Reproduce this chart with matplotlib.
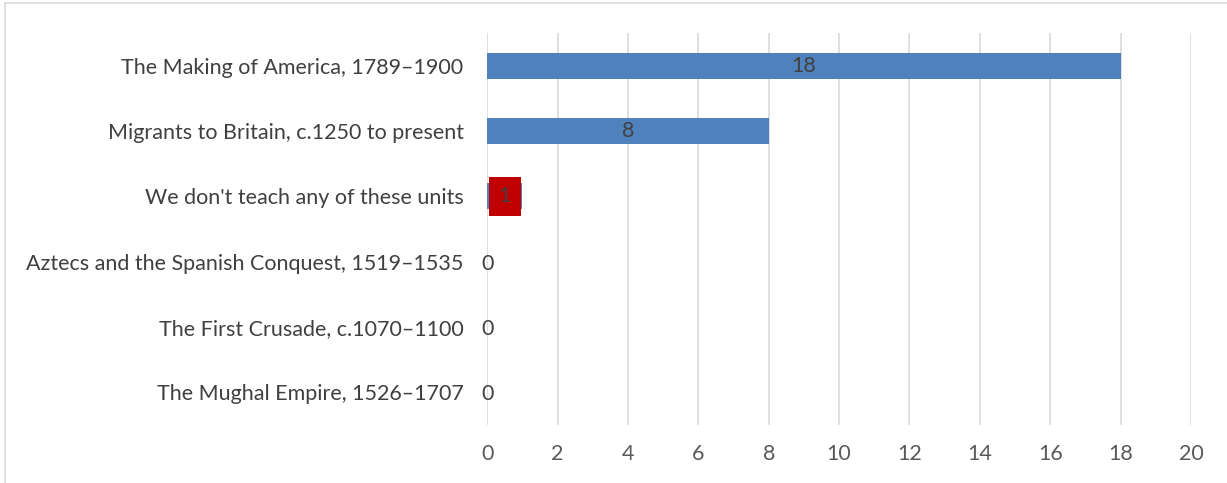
import matplotlib.pyplot as plt
from matplotlib.lines import Line2D

categories = [
    "The Mughal Empire, 1526\u20131707",
    "The First Crusade, c.1070\u20131100",
    "Aztecs and the Spanish Conquest, 1519\u20131535",
    "We don't teach any of these units",
    "Migrants to Britain, c.1250 to present",
    "The Making of America, 1789\u20131900",
]
values = [0, 0, 0, 1, 8, 18]
xticks = list(range(0, 21, 2))

plt.rcParams['font.family'] = ['Lato', 'DejaVu Sans']

fig = plt.figure(figsize=(12.27, 4.83), dpi=100)
ax = fig.add_axes([0.397, 0.12, 0.5737, 0.8117])

ypos = list(range(len(categories)))
ax.barh(ypos, values, height=0.4, color='#4f81bd', zorder=3)

for y, v in zip(ypos, values):
    if v == 0:
        ax.text(0, y - 0.03, "0", ha='center', va='center', fontsize=15.5,
                color='#404040', zorder=4)
    elif v == 1:
        ax.text(v / 2, y, str(v), ha='center', va='center', fontsize=15.5,
                color='#404040', zorder=5,
                bbox=dict(boxstyle='square,pad=0.45', fc='#c00000', ec='none'))
    else:
        ax.text(v / 2, y, str(v), ha='center', va='center', fontsize=15.5,
                color='#404040', zorder=4)

ax.set_xlim(0, 20)
ax.set_ylim(-0.5, len(categories) - 0.5)
ax.set_xticks(xticks)
ax.set_yticks(ypos)
ax.set_yticklabels(categories)
ax.tick_params(axis='y', length=0, pad=17, labelsize=15.5, labelcolor='#404040')
ax.tick_params(axis='x', length=0, pad=14, labelsize=15.5, labelcolor='#595959')
ax.grid(axis='x', color='#d9d9d9', linewidth=1.2, zorder=0)
for s in ax.spines.values():
    s.set_visible(False)

# outer chart border
fig.add_artist(Line2D([0.004, 1.0], [0.994, 0.994], color='#d9d9d9', lw=1.2))
fig.add_artist(Line2D([0.004, 0.004], [0.0, 0.994], color='#d9d9d9', lw=1.2))

fig.savefig('out.png', dpi=100)
